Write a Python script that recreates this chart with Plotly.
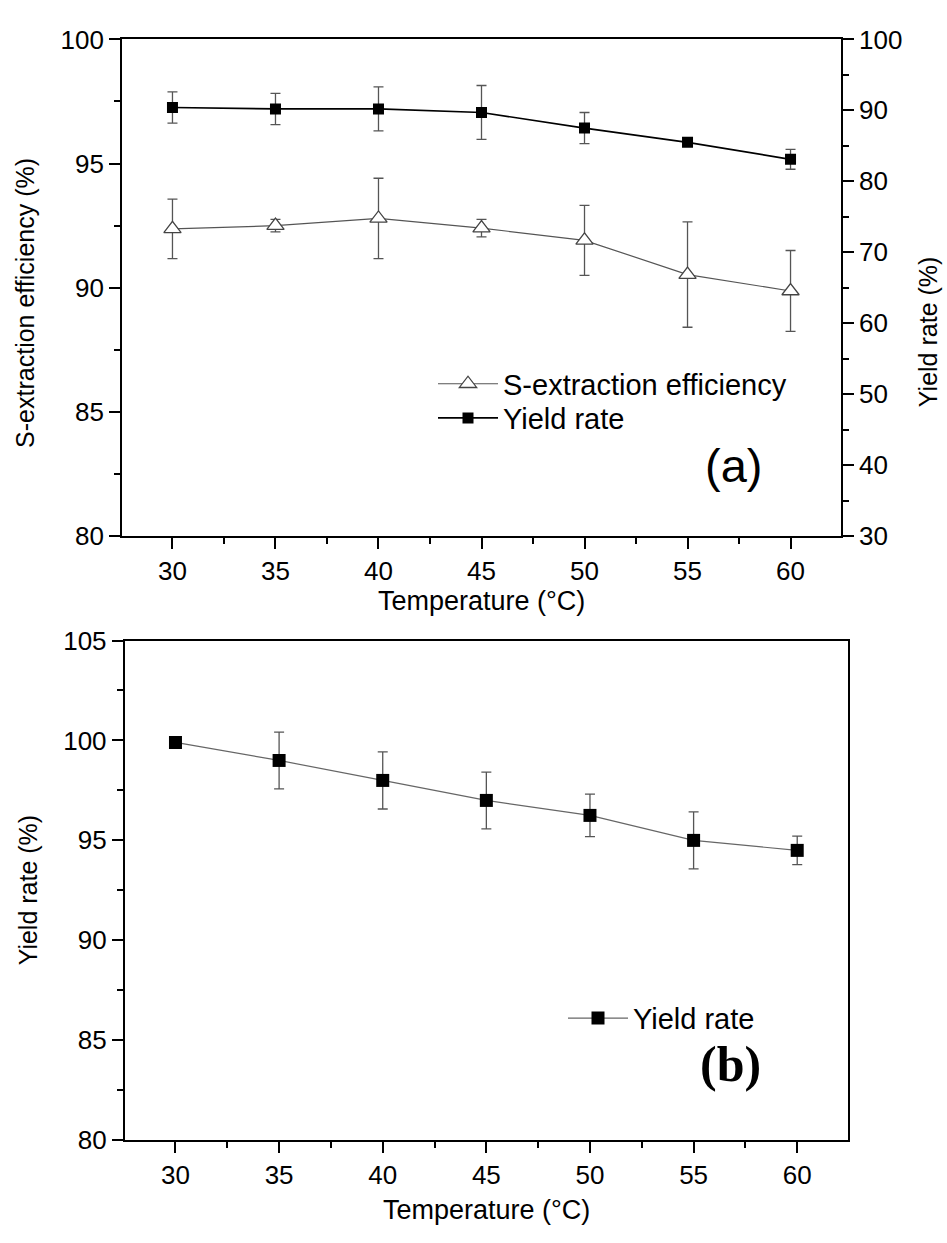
import plotly.graph_objects as go

# ---------------- data ----------------
temperature = [30, 35, 40, 45, 50, 55, 60]

# panel (a)
s_extraction = [92.37, 92.50, 92.79, 92.40, 91.91, 90.53, 89.87]
s_extraction_err = [1.20, 0.25, 1.62, 0.35, 1.41, 2.12, 1.63]
yield_a = [90.4, 90.2, 90.2, 89.7, 87.5, 85.5, 83.1]
yield_a_err = [2.2, 2.2, 3.1, 3.8, 2.2, 0.0, 1.4]

# panel (b)
yield_b = [99.9, 99.0, 98.0, 97.0, 96.25, 95.0, 94.5]
yield_b_err = [0.15, 1.42, 1.43, 1.42, 1.06, 1.43, 0.71]

x_ticks = [30, 35, 40, 45, 50, 55, 60]

W, H = 947, 1243
FONT = "Arial, Liberation Sans, sans-serif"
SERIF = "Times New Roman, Liberation Serif, serif"
TICKFONT = dict(family=FONT, size=26, color="black")
XTITLEFONT = dict(family=FONT, size=27, color="black")
YTITLEFONT = dict(family=FONT, size=25, color="black")
LEGFONT = dict(family=FONT, size=29, color="black")


def px(x):
    return x / W


def py(y):
    return 1 - y / H


fig = go.Figure()

fig.add_trace(go.Scatter(
    x=temperature, y=s_extraction, name="S-extraction efficiency",
    mode="lines+markers", xaxis="x", yaxis="y", showlegend=True,
    line=dict(color="#555555", width=1.2),
    marker=dict(symbol="triangle-up", size=15, color="white",
                line=dict(color="#444444", width=1.3)),
    error_y=dict(type="data", array=s_extraction_err, visible=True,
                 color="#555555", thickness=1.3, width=5),
    legend="legend",
))
fig.add_trace(go.Scatter(
    x=temperature, y=yield_a, name="Yield rate",
    mode="lines+markers", xaxis="x", yaxis="y2", showlegend=True,
    line=dict(color="black", width=1.7),
    marker=dict(symbol="square", size=11, color="black"),
    error_y=dict(type="data", array=yield_a_err, visible=True,
                 color="#555555", thickness=1.3, width=5),
    legend="legend2",
))
fig.add_trace(go.Scatter(
    x=temperature, y=yield_b, name="Yield rate",
    mode="lines+markers", xaxis="x3", yaxis="y3", showlegend=True,
    line=dict(color="#666666", width=1.2),
    marker=dict(symbol="square", size=13, color="black"),
    error_y=dict(type="data", array=yield_b_err, visible=True,
                 color="#555555", thickness=1.3, width=5),
    legend="legend3",
))

axis_common = dict(showline=True, linecolor="black", linewidth=1.8,
                   ticks="outside", tickcolor="black", tickwidth=1.6,
                   ticklen=11, showgrid=False, zeroline=False,
                   tickfont=TICKFONT)
minor_common = dict(ticks="outside", ticklen=6, tickwidth=1.6,
                    tickcolor="black", showgrid=False)

legend_common = dict(xanchor="left", yanchor="middle",
                     bgcolor="rgba(0,0,0,0)", borderwidth=0,
                     font=LEGFONT, itemwidth=60)

fig.update_layout(
    width=W, height=H, autosize=False,
    margin=dict(l=0, r=0, t=0, b=0),
    paper_bgcolor="white", plot_bgcolor="white",
    font=dict(family=FONT, color="black"),
    showlegend=True,
    xaxis=dict(**axis_common, domain=[px(122), px(841)], anchor="y",
               range=[27.55, 62.45], tickmode="array", tickvals=x_ticks,
               mirror=True,
               minor=dict(**minor_common, tick0=27.5, dtick=2.5)),
    yaxis=dict(**axis_common, domain=[py(534), py(25)], anchor="x",
               range=[80, 100], tick0=80, dtick=5,
               minor=dict(**minor_common, tick0=80, dtick=2.5)),
    yaxis2=dict(**axis_common, overlaying="y", side="right", anchor="x",
                range=[30, 100], tick0=30, dtick=10,
                minor=dict(**minor_common, tick0=30, dtick=5)),
    xaxis3=dict(**axis_common, domain=[px(124.7), px(848)], anchor="y3",
                range=[27.55, 62.45], tickmode="array", tickvals=x_ticks,
                mirror=True,
                minor=dict(**minor_common, tick0=27.5, dtick=2.5)),
    yaxis3=dict(**axis_common, domain=[py(1153), py(641)], anchor="x3",
                range=[80, 105], tick0=80, dtick=5, mirror=True,
                minor=dict(**minor_common, tick0=80, dtick=2.5)),
    legend=dict(**legend_common, x=px(433), y=py(378)),
    legend2=dict(**legend_common, x=px(433), y=py(413)),
    legend3=dict(**legend_common, x=px(563), y=py(1028)),
    annotations=[
        dict(text="Temperature (°C)", x=px(481.5), y=py(601),
             xref="paper", yref="paper", xanchor="center", yanchor="middle",
             showarrow=False, font=XTITLEFONT),
        dict(text="S-extraction efficiency (%)", x=px(25), y=py(295),
             xref="paper", yref="paper", xanchor="center", yanchor="middle",
             textangle=-90, showarrow=False, font=YTITLEFONT),
        dict(text="Yield rate (%)", x=px(928), y=py(325),
             xref="paper", yref="paper", xanchor="center", yanchor="middle",
             textangle=-90, showarrow=False, font=YTITLEFONT),
        dict(text="Temperature (°C)", x=px(486), y=py(1225),
             xref="paper", yref="paper", xanchor="center", yanchor="middle",
             showarrow=False, font=XTITLEFONT),
        dict(text="Yield rate (%)", x=px(28), y=py(897),
             xref="paper", yref="paper", xanchor="center", yanchor="middle",
             textangle=-90, showarrow=False, font=YTITLEFONT),
        dict(text="(a)", x=px(733), y=py(462), xref="paper", yref="paper",
             xanchor="center", yanchor="middle", showarrow=False,
             font=dict(family=FONT, size=47, color="black")),
        dict(text="<b>(b)</b>", x=px(730), y=py(1075), xref="paper",
             yref="paper", xanchor="center", yanchor="middle",
             showarrow=False,
             font=dict(family=SERIF, size=50, color="black")),
    ],
)

fig.write_html("out.html", config={"displayModeBar": False},
               post_script="document.body.style.margin='0px';")
